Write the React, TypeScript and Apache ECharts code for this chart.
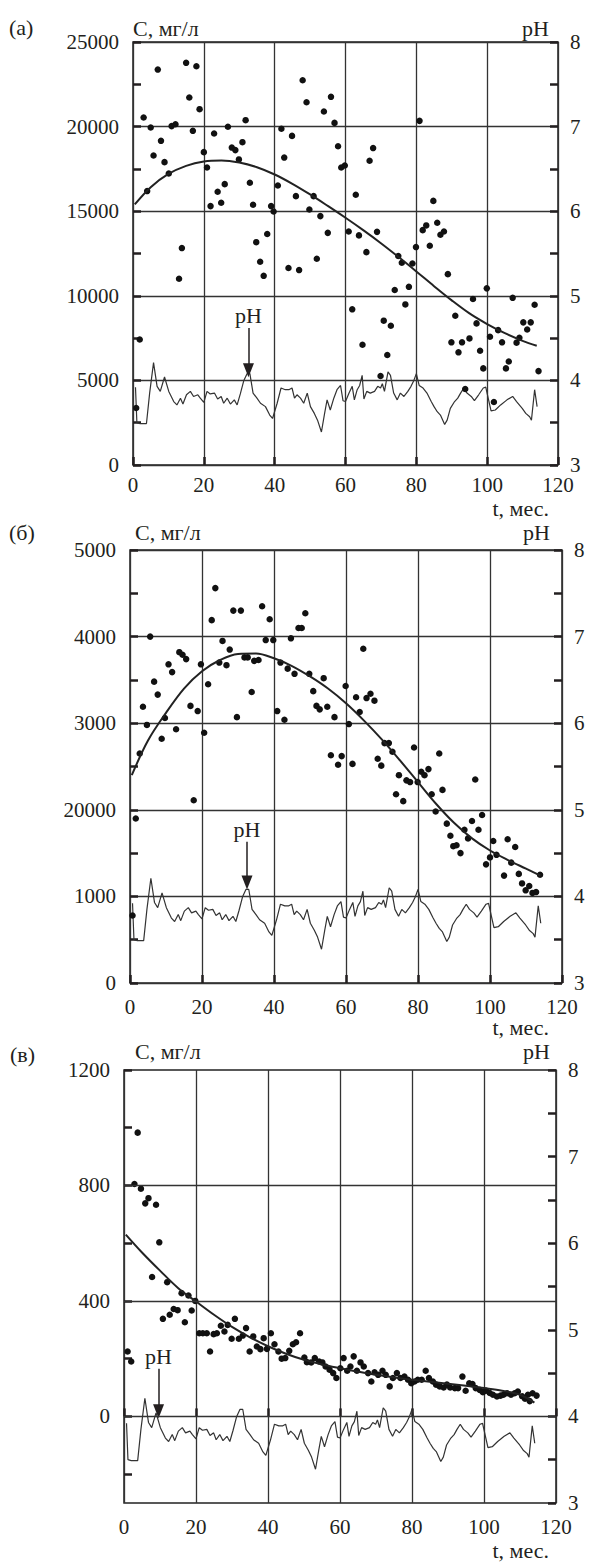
import React, { useEffect, useRef } from 'react';
import * as echarts from 'echarts';

// ---------- data ----------
const xMin = 0;
const xMax = 120;
const xInterval = 20;

// pH (same series in all three panels)
const phT = [0.7,1.1,2.0,3.8,4.7,5.8,6.8,7.7,8.9,10.1,11.5,12.4,13.4,14.1,15.1,16.2,17.1,18.3,19.0,20.0,20.9,21.8,23.0,23.9,24.9,25.6,26.6,27.5,28.6,29.4,30.3,31.3,32.2,33.0,33.9,35.0,36.0,37.4,38.6,39.4,40.7,41.8,43.0,44.0,44.9,45.6,46.3,47.3,48.2,49.2,50.1,51.2,52.1,53.2,54.1,54.8,55.7,56.7,57.6,58.6,59.3,60.0,61.0,61.9,62.5,63.3,64.0,64.7,65.2,66.0,67.0,68.2,69.1,69.9,70.4,71.0,72.0,72.7,73.6,74.6,75.5,76.5,77.6,78.5,79.3,80.0,80.8,81.9,83.0,84.2,85.0,85.9,86.8,88.0,88.7,89.6,90.8,91.7,92.5,93.4,94.3,95.5,96.4,97.6,98.9,99.6,100.4,101.1,102.3,103.8,105.6,107.2,108.3,109.9,110.9,112.0,112.5,113.4,114.1];
const phV = [3.92,3.50,3.49,3.49,3.85,4.21,3.93,3.87,4.04,3.87,3.75,3.71,3.79,3.72,3.83,3.87,3.81,3.83,3.79,3.74,3.87,3.84,3.85,3.78,3.81,3.73,3.79,3.72,3.77,3.71,3.84,4.00,4.08,4.08,3.85,3.79,3.73,3.69,3.59,3.55,3.73,3.91,3.89,3.89,3.91,3.79,3.83,3.79,3.73,3.85,3.69,3.61,3.53,3.39,3.61,3.77,3.65,3.79,3.89,3.94,3.76,3.75,3.85,3.93,3.77,3.89,3.94,4.06,3.78,3.87,3.85,3.87,3.93,3.91,3.96,3.87,4.10,4.06,3.85,3.77,3.85,3.81,3.87,3.93,4.00,4.08,3.94,3.91,3.85,3.75,3.69,3.63,3.59,3.48,3.53,3.67,3.75,3.79,3.85,3.91,3.85,3.81,3.76,3.83,3.91,3.92,3.77,3.64,3.65,3.71,3.77,3.81,3.75,3.67,3.61,3.57,3.53,3.89,3.69];

// panel (а)
const pointsA: [number, number][] = [[0.9,3370],[1.9,7420],[3.0,20540],[4.0,16190],[5.0,19950],[5.8,18290],[7.0,23370],[7.9,19160],[8.9,17900],[10.1,17230],[10.9,20030],[12.0,20140],[13.0,11010],[13.8,12820],[15.0,23770],[15.9,21720],[16.9,19750],[17.9,23570],[18.8,21030],[20.0,18490],[20.9,17580],[21.9,15300],[22.9,19590],[23.9,16150],[24.9,15500],[25.9,16600],[26.8,19990],[27.9,18760],[28.9,18610],[29.9,18060],[30.9,19080],[31.8,20380],[33.0,16680],[33.9,15380],[34.8,13170],[35.9,12010],[36.9,11180],[37.9,13650],[39.0,15300],[39.7,14980],[40.9,16520],[41.9,19870],[42.7,18170],[43.9,11640],[44.9,19450],[46.0,15890],[46.9,11520],[47.9,22740],[49.0,21440],[49.8,15100],[51.0,15890],[51.9,12190],[52.9,14710],[53.9,20890],[55.0,13720],[55.9,21760],[56.9,20220],[57.9,18840],[58.8,17580],[59.8,17700],[60.9,13800],[61.9,9200],[62.9,15970],[63.8,13570],[64.8,7110],[65.9,12580],[66.8,17980],[67.8,18730],[68.9,13780],[69.9,5260],[70.8,8530],[71.8,6500],[72.8,8230],[73.9,10340],[74.9,12350],[75.9,11950],[76.9,9490],[77.9,10530],[78.9,11910],[79.9,12880],[80.9,20340],[81.8,13880],[82.8,14160],[83.8,12960],[84.8,15610],[85.9,14320],[86.8,13610],[87.8,13800],[88.9,11280],[89.9,7250],[91.0,8820],[91.9,6660],[92.9,7250],[93.8,4490],[95.0,7480],[96.0,9810],[97.0,8370],[98.0,6750],[98.9,5710],[99.9,10440],[100.8,7580],[101.9,3720],[103.1,7970],[104.2,7250],[105.3,5710],[106.1,6120],[107.2,9880],[108.3,7230],[109.1,7520],[110.2,8430],[111.3,8010],[112.3,8430],[113.4,9470],[114.5,5550]];
const curveAT = [0.5,5,10,15,20,25,30,35,40,45,50,55,60,65,70,75,80,85,90,95,100,105,110,114];
const curveAV = [15400,16420,17200,17680,17940,18000,17880,17600,17170,16620,15990,15310,14610,13880,13110,12290,11440,10570,9730,8960,8330,7790,7340,7050];
const yA = { min: 0, max: 25000, interval: 5000 };

// panel (б)
const pointsB: [number, number][] = [[0.7,780],[1.6,1900],[2.7,2650],[3.6,3190],[4.7,2980],[5.6,4000],[6.7,3480],[7.7,3330],[8.8,2820],[9.7,3060],[10.7,3680],[11.7,3590],[12.8,2930],[13.7,3820],[14.6,3790],[15.6,3740],[16.8,3200],[17.7,2110],[18.8,3140],[19.7,3680],[20.6,2890],[21.7,3450],[22.7,4190],[23.7,4560],[24.8,3700],[25.7,3950],[26.8,3670],[27.7,3850],[28.7,4300],[29.7,3070],[30.8,4300],[31.8,3760],[32.7,3760],[33.8,3360],[34.5,3720],[35.7,3730],[36.7,4350],[37.7,3960],[38.8,4200],[39.8,3960],[40.9,3140],[41.8,3700],[42.9,3040],[43.8,3630],[44.7,3980],[45.7,3570],[46.8,4100],[47.7,4100],[48.7,4270],[49.8,3570],[50.9,3370],[51.8,3200],[52.7,3160],[53.8,3520],[54.8,3190],[55.8,2630],[56.8,3070],[57.8,2520],[58.8,2620],[59.9,3430],[60.8,2990],[61.8,2530],[62.8,3300],[63.8,3130],[64.8,3860],[65.7,3290],[66.8,3340],[67.9,3260],[68.8,2590],[69.8,2510],[70.7,2770],[71.9,2770],[72.9,2670],[73.9,2180],[74.7,2400],[75.9,2100],[76.8,2340],[77.8,2320],[78.9,2720],[79.9,2320],[80.9,2440],[81.8,2400],[82.9,2470],[83.8,2180],[84.9,1980],[85.9,2650],[86.8,2230],[88.0,1840],[89.0,1700],[89.8,1580],[90.7,1590],[91.8,1500],[92.9,1770],[93.9,1670],[95.0,1870],[95.9,2350],[96.8,1770],[97.8,1940],[98.9,1370],[100.0,1450],[100.9,1640],[101.8,1480],[103.9,1240],[104.9,1660],[105.9,1390],[107.0,1570],[108.0,1260],[108.9,1150],[109.9,1070],[110.9,1120],[111.8,1040],[112.8,1050],[113.9,1250]];
const curveBT = [0.5,5,10,15,20,25,30,35,40,45,50,55,60,65,70,75,80,85,90,95,100,105,110,114];
const curveBV = [2400,2800,3120,3400,3600,3730,3800,3805,3750,3660,3540,3400,3230,3030,2810,2570,2320,2070,1850,1670,1530,1420,1320,1240];
const yB = { min: 0, max: 5000, interval: 1000 };
const yLabelValsB = [0, 1000, 2000, 3000, 4000, 5000];
const yLabelTextB = ['0', '1000', '20000', '3000', '4000', '5000'];

// panel (в)
const pointsC: [number, number][] = [[1.0,225],[2.0,190],[2.9,805],[3.8,983],[4.7,789],[5.9,738],[6.8,756],[7.8,483],[8.9,733],[9.8,603],[10.8,338],[12.0,465],[12.7,352],[13.8,372],[14.9,368],[16.0,427],[16.9,326],[17.9,419],[18.8,367],[19.8,400],[20.9,288],[21.9,288],[23.0,288],[23.9,225],[24.9,285],[25.8,288],[26.9,314],[27.9,294],[28.8,317],[29.9,269],[30.8,338],[31.9,269],[33.0,280],[33.9,306],[34.9,225],[35.9,277],[36.9,242],[37.9,233],[38.8,271],[39.7,234],[40.8,288],[41.8,250],[42.9,225],[43.8,200],[44.8,202],[45.9,227],[46.9,250],[47.8,257],[48.9,288],[50.1,204],[50.8,188],[52.0,187],[53.0,202],[54.2,190],[55.1,187],[56.0,173],[57.1,162],[58.1,150],[59.0,133],[60.1,167],[61.0,202],[62.0,158],[62.9,173],[63.8,208],[64.7,158],[65.7,187],[66.6,173],[67.8,150],[68.7,121],[69.6,153],[70.6,144],[71.8,158],[72.7,144],[73.8,104],[74.7,133],[75.8,150],[76.8,133],[77.9,138],[78.9,127],[79.8,115],[80.7,121],[81.6,127],[82.7,127],[83.8,158],[84.7,133],[85.8,121],[86.7,110],[87.7,104],[88.8,100],[89.7,110],[90.6,100],[91.9,98],[92.8,98],[94.0,138],[94.9,89],[95.9,115],[96.8,112],[97.7,98],[98.8,92],[99.7,84],[100.6,89],[101.6,81],[102.5,75],[103.6,69],[104.6,72],[105.4,75],[106.4,80],[107.5,75],[108.5,80],[109.4,86],[110.6,70],[111.4,61],[112.2,75],[112.7,53],[113.5,80],[114.6,72]];
const curveCT = [0.5,5,10,15,20,25,30,35,40,45,50,55,60,65,70,75,80,85,90,95,100,105,110,114];
const curveCV = [630,568,505,445,398,352,310,274,243,217,196,180,167,155,144,135,127,120,113,106,98,89,75,48];
const yC = { min: -300, max: 1200 };
const yTickValsC = [-200, 0, 200, 400, 600, 800, 1000, 1200];
const yLabelValsC = [0, 400, 800, 1200];
const yGridValsC = [0, 400, 800];

const ph = { min: 3, max: 8, interval: 1 };
// arrow annotation positions [t, pH start, pH tip]
const arrowA = [32.6, 4.62, 4.12];
const arrowB = [32.5, 4.63, 4.16];
const arrowC = [9.6, 4.55, 4.06];

// ---------- styling ----------
const FONT = "'Liberation Serif'";
const INK = '#231f20';
const FS = 21;
const FT = 22;

const grids = [
  { left: 133, top: 42, width: 425, height: 423 },
  { left: 130, top: 550, width: 432, height: 433 },
  { left: 124, top: 1070, width: 432, height: 433 },
];

const zip = (a: number[], b: number[]) => a.map((v, i) => [v, b[i]]);

export default function App() {
  const ref = useRef<HTMLDivElement>(null);
  useEffect(() => {
    if (!ref.current) return;
    const chart = echarts.init(ref.current, undefined, { renderer: 'svg' });
    const tick = { show: true, inside: true, length: 8, lineStyle: { color: INK, width: 2.5 } };
    const minor = { show: true, splitNumber: 2, length: 8, lineStyle: { color: INK, width: 2.5 } };
    const gridLine = { show: true, lineStyle: { color: '#333', width: 1.3, type: 'solid' } };
    const plain = (v: number) => String(v);
    const label = (margin: number) => ({ fontSize: FS, fontFamily: FONT, color: INK, margin, formatter: plain });

    const xAxis = grids.map((_, i) => ({
      gridIndex: i, type: 'value', min: xMin, max: xMax, interval: xInterval,
      axisLine: { show: false }, axisTick: tick, splitLine: gridLine,
      axisLabel: label(i === 0 ? 9 : 13),
    }));

    const phAxis = (i: number) => ({
      gridIndex: i, type: 'value', position: 'right', min: ph.min, max: ph.max, interval: ph.interval,
      axisLine: { show: false }, axisTick: tick, minorTick: minor,
      splitLine: { show: false }, axisLabel: label(12),
    });

    const yAxis: any[] = [
      {
        gridIndex: 0, type: 'value', position: 'left', min: yA.min, max: yA.max, interval: yA.interval,
        axisLine: { show: false }, axisTick: tick, minorTick: minor,
        splitLine: gridLine, axisLabel: label(14),
      },
      phAxis(0),
      {
        gridIndex: 1, type: 'value', position: 'left', min: yB.min, max: yB.max, interval: yB.interval,
        axisLine: { show: false }, axisTick: tick, minorTick: minor,
        splitLine: gridLine,
        axisLabel: { ...label(14), formatter: (v: number) => {
          const k = yLabelValsB.indexOf(v);
          return k >= 0 ? yLabelTextB[k] : '';
        } },
      },
      phAxis(1),
      {
        gridIndex: 2, type: 'value', position: 'left', min: yC.min, max: yC.max,
        axisLine: { show: false },
        axisTick: { ...tick, customValues: yTickValsC },
        splitLine: { show: false },
        axisLabel: { ...label(14), customValues: yLabelValsC },
      },
      phAxis(2),
    ];

    const scatter = (i: number, data: [number, number][], extra: any = {}) => ({
      type: 'scatter', xAxisIndex: i, yAxisIndex: i * 2, data, symbolSize: 6.5,
      itemStyle: { color: '#111', opacity: 1 }, z: 3, ...extra,
    });
    const curve = (i: number, t: number[], v: number[]) => ({
      type: 'line', xAxisIndex: i, yAxisIndex: i * 2, data: zip(t, v), smooth: 0.35,
      symbol: 'none', lineStyle: { color: '#222', width: 2 }, z: 4,
    });
    const phLine = (i: number, arrow: number[]) => ({
      type: 'line', xAxisIndex: i, yAxisIndex: i * 2 + 1, data: zip(phT, phV),
      symbol: 'none', lineStyle: { color: '#333', width: 1.2 }, z: 3,
      markLine: {
        silent: true, animation: false,
        symbol: ['none', 'triangle'], symbolSize: [11, 14],
        lineStyle: { color: INK, width: 1.5, type: 'solid' },
        label: { show: true, position: 'start', formatter: 'pH', fontSize: FT, fontFamily: FONT, color: INK, distance: 1 },
        data: [[{ coord: [arrow[0], arrow[1]] }, { coord: [arrow[0], arrow[2]] }]],
      },
    });

    const txt = (text: string, x: number, y: number, align = 'left') => ({
      type: 'text', x, y, silent: true,
      style: { text, fontSize: FT, fontFamily: FONT, fill: INK, align, verticalAlign: 'middle' },
    });

    chart.setOption({
      animation: false,
      backgroundColor: '#fff',
      textStyle: { fontFamily: FONT },
      grid: grids.map(g => ({ ...g, show: true, borderColor: '#222', borderWidth: 1.5, backgroundColor: 'transparent' })),
      xAxis, yAxis,
      series: [
        phLine(0, arrowA), curve(0, curveAT, curveAV), scatter(0, pointsA),
        phLine(1, arrowB), curve(1, curveBT, curveBV), scatter(1, pointsB),
        phLine(2, arrowC), curve(2, curveCT, curveCV),
        scatter(2, pointsC, {
          markLine: {
            silent: true, animation: false, symbol: 'none', label: { show: false },
            lineStyle: { color: '#333', width: 1.3, type: 'solid' },
            data: yGridValsC.map(v => ({ yAxis: v })),
          },
        }),
      ],
      graphic: [
        txt('(а)', 9, 27), txt('С, мг/л', 133, 28), txt('pH', 549, 28, 'right'), txt('t, мес.', 549, 508, 'right'),
        txt('(б)', 9, 532), txt('С, мг/л', 135, 532), txt('pH', 550, 532, 'right'), txt('t, мес.', 549, 1027, 'right'),
        txt('(в)', 10, 1054), txt('С, мг/л', 135, 1051), txt('pH', 550, 1051, 'right'), txt('t, мес.', 549, 1550, 'right'),
      ],
    });
    return () => chart.dispose();
  }, []);
  return <div ref={ref} style={{ position: 'absolute', left: 0, top: 0, width: 589, height: 1562, background: '#fff' }} />;
}
